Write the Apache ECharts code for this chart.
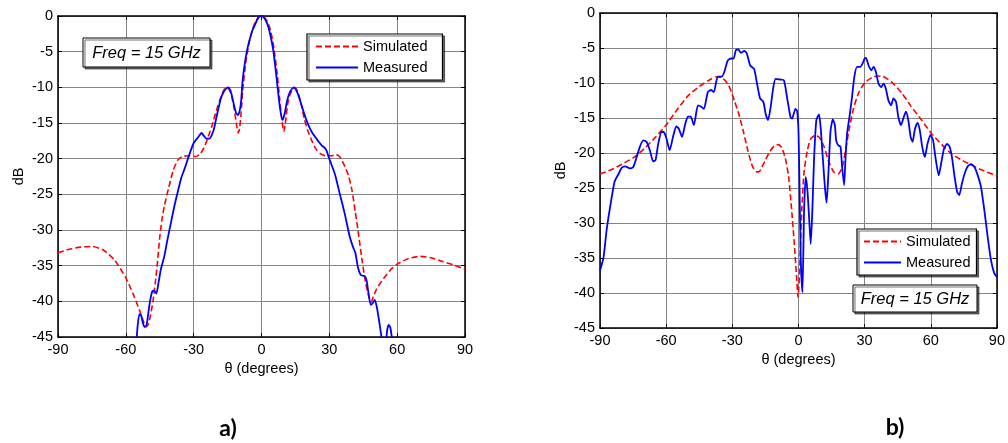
<!DOCTYPE html>
<html><head><meta charset="utf-8">
<script src="https://cdn.jsdelivr.net/npm/echarts@6/dist/echarts.min.js"></script>
<style>html,body{margin:0;padding:0;background:#fff}#c{width:1008px;height:443px}</style>
</head><body><div id="c"></div>
<script>
// ---- tick labels ----
const xTickLabels = [-90, -60, -30, 0, 30, 60, 90];
const yTickLabels = [0, -5, -10, -15, -20, -25, -30, -35, -40, -45];
const seriesNames = ['Simulated', 'Measured'];
const freqText = 'Freq = 15 GHz';
const xAxisTitle = 'θ (degrees)';
const yAxisTitle = 'dB';
const captions = ['a)', 'b)'];

// ---- panel a) ----
const thetaSimA = [-90,-85,-80,-75,-70,-65,-60,-57,-54,-52,-51,-50,-49,-48,-47,-46,-45,-44,-43,-41,-39,-37,-35,-32,-29,-27,-25.5,-24,-22,-20,-18,-16.5,-15.3,-14,-13,-12,-11,-10.3,-9.7,-9,-8.3,-7,-5.5,-4,-2.5,-1,0,1,2.5,4,5.5,7,8,9,9.9,10.8,11.5,12.5,14,15,16,17.5,19,20.5,22,24,26,28.5,31,33,35,37,38.5,40,41.5,43,44.5,46,47.5,48.5,49.5,51,54,57,60,65,70,75,80,85,90];
const dbSimA    = [-33.2,-32.7,-32.4,-32.3,-32.8,-34.2,-36.7,-38.8,-41.2,-43.0,-43.6,-43.2,-41.8,-40.0,-37.5,-34.5,-31.0,-28.5,-26.7,-24.0,-21.6,-20.2,-19.7,-19.6,-19.7,-19.3,-18.5,-17.3,-15.5,-13.3,-11.4,-10.3,-10.0,-10.5,-11.5,-13.2,-15.3,-16.4,-15.8,-13.5,-10.4,-6.6,-3.8,-1.9,-0.7,-0.1,0,-0.1,-0.7,-2.0,-4.5,-8.3,-11.5,-14.6,-16.2,-14.4,-12.5,-11.1,-10.2,-10.1,-10.6,-12.3,-14.5,-16.1,-17.3,-18.6,-19.3,-19.6,-19.6,-19.4,-19.9,-21.2,-22.4,-24.4,-27.5,-30.8,-34.3,-37.3,-39.4,-40.1,-39.3,-38.2,-36.8,-35.6,-34.8,-34.0,-33.7,-33.9,-34.4,-34.9,-35.5];

const thetaMeasA = [-56,-55.5,-54.8,-54,-53.2,-52.5,-51.7,-50.8,-50,-49.2,-48.3,-47.5,-46.5,-45.5,-44.5,-43,-41.5,-40,-38.5,-37,-35.5,-34,-32,-30,-28,-26.5,-25.5,-24.3,-23,-22,-21,-20,-19,-18,-17,-16,-14.8,-13.8,-13,-12,-11.2,-10.3,-9.6,-9,-8.4,-7.5,-6.5,-5.5,-4,-3,-2,-1,0,1,2,3,4,5.2,6.6,8.1,9.3,10.3,11.3,12.5,13.5,14.5,15.5,16.5,18.4,20,21.3,22.5,23.6,25,26.5,28,28.8,30.2,31.5,32.5,34.6,36.8,39,40.5,41.5,42.7,43.9,45.7,46.5,47.2,48.3,49.1,50.1,51,51.8,52.8,53.5,54.3,55,55.6,56.3,57,57.6,58.2];
const dbMeasA    = [-47,-46.5,-43.5,-41.8,-42.0,-43.0,-43.6,-43.3,-41.5,-39.8,-38.6,-38.5,-38.9,-37.3,-35.5,-33.7,-31.2,-28.9,-26.6,-24.6,-22.7,-21.4,-19.5,-17.8,-17.0,-16.4,-16.8,-17.2,-17.2,-16.7,-15.8,-14.3,-12.9,-11.6,-10.8,-10.3,-10.0,-10.4,-11.3,-12.7,-13.6,-13.9,-13.2,-11.9,-9.2,-6.9,-5.0,-3.6,-2.0,-1.3,-0.6,-0.1,0,-0.2,-0.7,-1.5,-2.8,-4.8,-8.5,-12.7,-14.6,-13.6,-11.9,-10.7,-10.2,-10.0,-10.5,-11.3,-13.2,-14.7,-15.7,-16.4,-16.9,-17.5,-18.1,-18.5,-18.9,-20.2,-21.3,-22.2,-24.9,-27.7,-30.9,-32.4,-33.2,-35.3,-36.3,-36.5,-37.1,-38.6,-40.5,-40.3,-39.8,-40.8,-42.3,-44.4,-46,-47.5,-46,-44.0,-43.3,-43.7,-45,-47];

// ---- panel b) ----
const thetaSimB = [-90,-85,-80,-75,-70,-65,-60,-55,-50,-45,-40,-37,-35,-33,-31,-29,-27,-25,-23,-21,-19,-18,-17,-15,-13,-11,-9,-7.5,-6,-4.5,-3,-2,-1,-0.2,0.5,1,1.5,2.5,4,5.5,7.5,9.3,11.5,13.8,16,18,19.8,21.3,22.8,25,27.3,30,34,37.5,42,47,51,55.8,60.3,65,69.3,74,78.3,83,90];
const dbSimB    = [-23.0,-22.4,-21.6,-20.7,-19.4,-17.8,-16.0,-13.8,-11.8,-10.5,-9.5,-9.1,-9.2,-9.7,-10.8,-12.6,-14.5,-16.9,-19.6,-21.8,-22.7,-22.7,-22.3,-21.0,-19.8,-19.0,-18.8,-19.3,-20.7,-23.3,-28.5,-32.5,-37.0,-40.6,-37.0,-32.5,-28.2,-22.8,-19.7,-18.0,-17.5,-17.7,-19.0,-21.3,-22.7,-23.0,-22.1,-19.7,-16.9,-13.6,-11.4,-10.0,-9.1,-9.0,-9.8,-11.5,-13.3,-15.3,-17.2,-18.8,-20.1,-21.0,-21.7,-22.4,-23.3];

const thetaMeasB = [-90,-88.4,-87,-85.4,-83.4,-81.6,-80.1,-78.6,-76.4,-74.9,-73.4,-71.9,-70.4,-68.9,-67.4,-65.9,-64.8,-63.6,-62.1,-61.1,-59.9,-58.4,-56.9,-55.4,-54.3,-52.8,-51.3,-50.1,-48.9,-47.4,-45.6,-44.1,-42.9,-41.1,-39.6,-38.4,-36.6,-34.8,-33.6,-32.1,-30.6,-29.4,-28.4,-27.3,-26.1,-24.6,-23.4,-21.9,-20.1,-18.9,-17.4,-15.9,-14.9,-13.8,-12.6,-11.4,-10.4,-8.4,-6.6,-5.1,-3.6,-2.9,-1.4,-0.6,0,0.4,1.05,1.8,2.55,3.3,4.05,4.8,5.55,6.3,7.05,8.1,9.3,10.05,11.1,12,12.75,13.5,14.55,15.6,16.5,17.1,18,19.05,19.8,20.7,21.3,22.05,23.1,24.3,25.35,26.55,28.05,29.1,30,30.6,31.8,33,34.05,35.1,36.3,37.5,38.55,39.6,40.8,42,43.05,44.25,45.3,46.5,47.7,48.75,49.8,50.85,51.75,52.8,54,55.05,56.1,57.3,58.5,59.85,61.05,62.1,63.6,64.8,66,67.35,68.55,69.6,70.8,72,72.9,74.1,75.3,76.8,78.3,79.8,81.3,82.8,84.3,85.8,87.3,88.8,90];
const dbMeasB    = [-36.8,-34.9,-31.0,-27.7,-24.1,-23.0,-22.1,-21.9,-22.2,-22.0,-20.6,-19.1,-18.2,-18.4,-19.6,-21.2,-21.0,-18.7,-17.0,-17.0,-17.9,-19.6,-17.7,-16.2,-16.5,-17.7,-15.8,-14.8,-14.8,-16.0,-13.2,-13.4,-13.7,-11.3,-11.0,-11.3,-9.1,-9.1,-8.4,-6.8,-6.5,-6.5,-5.3,-5.2,-5.7,-5.4,-5.8,-7.5,-8.0,-9.9,-12.2,-12.7,-14.4,-15.3,-13.4,-10.6,-9.4,-9.5,-9.6,-12.2,-14.9,-15.1,-13.7,-14.0,-16.8,-23.4,-35.3,-39.9,-28.2,-23.4,-25.3,-29.1,-33.0,-28.2,-21.0,-15.3,-14.5,-16.3,-21.0,-24.9,-27.1,-23.4,-16.8,-15.2,-16.0,-18.2,-18.9,-19.1,-22.0,-24.6,-21.0,-17.2,-14.9,-12.0,-9.1,-7.7,-7.7,-7.2,-6.5,-6.4,-7.5,-8.2,-7.7,-8.4,-10.1,-10.6,-10.1,-10.8,-12.5,-13.2,-12.2,-12.7,-14.9,-16.0,-14.9,-14.1,-15.3,-17.7,-18.4,-16.6,-15.7,-16.8,-19.1,-20.6,-18.7,-17.4,-18.2,-20.6,-23.2,-21.3,-19.4,-18.7,-19.1,-20.6,-23.4,-25.6,-26.0,-24.4,-23.0,-21.9,-21.6,-22.0,-23.2,-24.9,-28.2,-32.0,-35.3,-37.2,-37.7];

const zip = (a, b) => a.map((v, i) => [v, b[i]]);
const FONT = "'Liberation Sans', Arial, sans-serif";
const xMin = xTickLabels[0], xMax = xTickLabels[xTickLabels.length - 1], xInt = xTickLabels[1] - xTickLabels[0];
const yMax = yTickLabels[0], yMin = yTickLabels[yTickLabels.length - 1], yInt = yTickLabels[0] - yTickLabels[1];

const grids = [
  { left: 58, top: 16, width: 407, height: 321 },
  { left: 600, top: 13, width: 400, height: 315 }
];

const xAxes = [], yAxes = [];
grids.forEach((g, gi) => {
  xAxes.push({
    type: 'value', gridIndex: gi, min: xMin, max: xMax, interval: xInt, position: 'bottom',
    axisLine: { show: true, onZero: false, lineStyle: { color: '#000', width: 1.5 } },
    axisTick: { show: true, inside: true, length: 4, lineStyle: { color: '#000' } },
    axisLabel: { color: '#000', fontSize: 14.5, fontFamily: FONT, margin: 5, showMinLabel: true, showMaxLabel: true },
    splitLine: { show: true, lineStyle: { color: '#858585', width: 1 } },
    name: xAxisTitle, nameLocation: 'middle', nameGap: 24,
    nameTextStyle: { color: '#000', fontSize: 14.5, fontFamily: FONT }
  });
  xAxes.push({
    type: 'value', gridIndex: gi, min: xMin, max: xMax, interval: xInt, position: 'top',
    axisLine: { show: true, onZero: false, lineStyle: { color: '#000', width: 1.5 } },
    axisTick: { show: true, inside: true, length: 4, lineStyle: { color: '#000' } },
    axisLabel: { show: false }, splitLine: { show: false }
  });
  yAxes.push({
    type: 'value', gridIndex: gi, min: yMin, max: yMax, interval: yInt, position: 'left',
    axisLine: { show: true, onZero: false, lineStyle: { color: '#000', width: 1.5 } },
    axisTick: { show: true, inside: true, length: 4, lineStyle: { color: '#000' } },
    axisLabel: { color: '#000', fontSize: 14.5, fontFamily: FONT, margin: 5, showMinLabel: true, showMaxLabel: true },
    splitLine: { show: true, lineStyle: { color: '#858585', width: 1 } },
    name: yAxisTitle, nameLocation: 'middle', nameGap: 32, nameRotate: 90,
    nameTextStyle: { color: '#000', fontSize: 14.5, fontFamily: FONT }
  });
  yAxes.push({
    type: 'value', gridIndex: gi, min: yMin, max: yMax, interval: yInt, position: 'right',
    axisLine: { show: true, onZero: false, lineStyle: { color: '#000', width: 1.5 } },
    axisTick: { show: true, inside: true, length: 4, lineStyle: { color: '#000' } },
    axisLabel: { show: false }, splitLine: { show: false }
  });
});

function simSeries(axisIdx, data) {
  return { name: seriesNames[0], type: 'line', xAxisIndex: axisIdx, yAxisIndex: axisIdx, data: data,
    symbol: 'none', showSymbol: false, smooth: 0.2, clip: true, z: 3,
    lineStyle: { color: '#ff0000', width: 1.6, type: [6, 3] }, itemStyle: { color: '#ff0000' } };
}
function measSeries(axisIdx, data) {
  return { name: seriesNames[1], type: 'line', xAxisIndex: axisIdx, yAxisIndex: axisIdx, data: data,
    symbol: 'none', showSymbol: false, smooth: 0.2, clip: true, z: 4,
    lineStyle: { color: '#0000ff', width: 1.8, type: 'solid' }, itemStyle: { color: '#0000ff' } };
}

function legendAt(left, top, itemWidth, pad) {
  return { left: left, top: top, orient: 'vertical', data: seriesNames, selectedMode: false,
    itemWidth: itemWidth, itemHeight: 14, itemGap: 6, padding: pad,
    itemStyle: { color: 'rgba(0,0,0,0)', borderWidth: 0, opacity: 0 },
    textStyle: { color: '#000', fontSize: 14.5, fontFamily: FONT },
    borderColor: '#000', borderWidth: 1.2, backgroundColor: '#fff',
    shadowColor: 'rgba(0,0,0,0.55)', shadowOffsetX: 2, shadowOffsetY: 2, shadowBlur: 0 };
}

function freqBox(x, y, w, h) {
  return [
    { type: 'rect', shape: { x: x, y: y, width: w, height: h }, z: 100,
      style: { fill: '#fff', stroke: '#000', lineWidth: 1, shadowColor: 'rgba(0,0,0,0.55)', shadowOffsetX: 2, shadowOffsetY: 2, shadowBlur: 0 } },
    { type: 'text', x: x + w / 2, y: y + h / 2 + 1, z: 101,
      style: { text: freqText, fill: '#000', font: 'italic 16.5px ' + FONT, textAlign: 'center', textVerticalAlign: 'middle' } }
  ];
}

const chart = echarts.init(document.getElementById('c'), null, { renderer: 'canvas' });
chart.setOption({
  animation: false,
  backgroundColor: '#fff',
  grid: grids,
  xAxis: xAxes,
  yAxis: yAxes,
  legend: [ legendAt(307, 34, 42, [5, 15, 5, 8]), legendAt(857, 229, 37, [5, 6, 5, 6]) ],
  series: [
    simSeries(0, zip(thetaSimA, dbSimA)),
    measSeries(0, zip(thetaMeasA, dbMeasA)),
    simSeries(2, zip(thetaSimB, dbSimB)),
    measSeries(2, zip(thetaMeasB, dbMeasB))
  ],
  graphic: [].concat(
    freqBox(83, 38, 127, 29),
    freqBox(853, 285, 124, 27),
    [
      { type: 'text', x: 228, y: 429, style: { text: captions[0], fill: '#000', font: 'bold 23px Lato, sans-serif', textAlign: 'center', textVerticalAlign: 'middle' } },
      { type: 'text', x: 895, y: 428, style: { text: captions[1], fill: '#000', font: 'bold 23px Lato, sans-serif', textAlign: 'center', textVerticalAlign: 'middle' } }
    ]
  )
});
</script>
</body></html>
